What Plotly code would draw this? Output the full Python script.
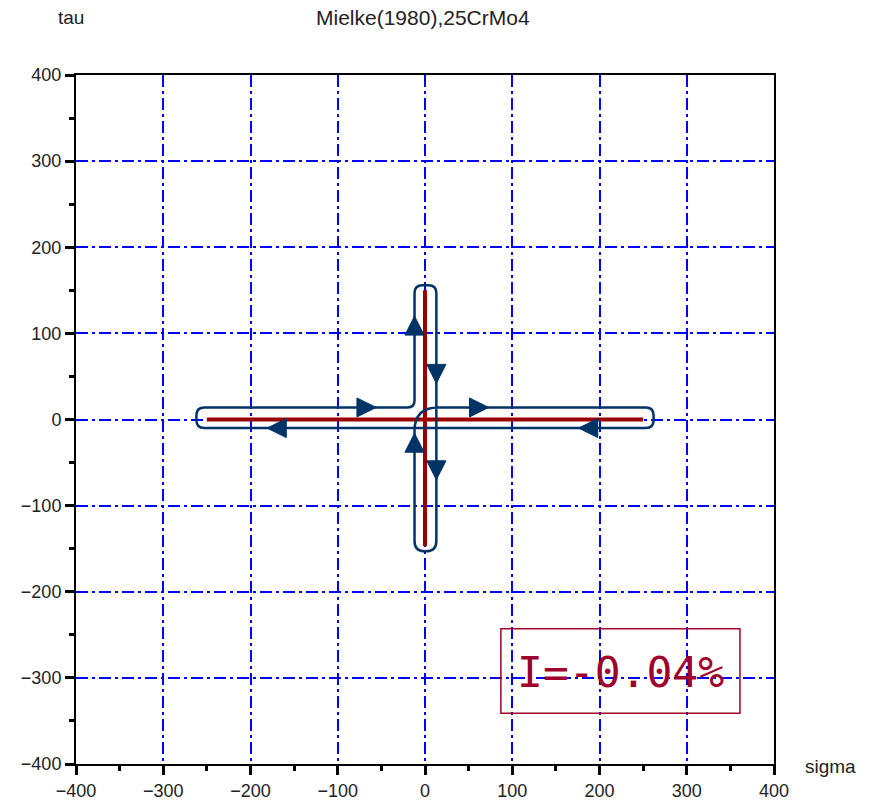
import plotly.graph_objects as go
import numpy as np

# ---------------- data ----------------
# red load path (sigma / tau in MPa)
red_h_sigma = [-250, 250]
red_h_tau = [0, 0]
red_v_sigma = [0, 0]
red_v_tau = [-147, 150]

# navy loop path: corner vertices and corner rounding (data units)
loop_sigma = [-262, -12, -12, 13, 13, -12, -12, 262, 262, -262]
loop_tau = [14, 14, 156, 156, -153, -153, 14, 14, -10, -10]
loop_round = [9, 8, 9, 9, 12, 12, 27, 9, 9, 9]

# direction arrows (tip position + direction)
arrow_sigma = [-56, -12, 13, 73, 176, -181, -12, 13]
arrow_tau = [14, 120, 42, 14, -10, -10, -16, -70]
arrow_dir = ["right", "up", "down", "right", "left", "left", "up", "down"]

tick_vals = [-400, -300, -200, -100, 0, 100, 200, 300, 400]
title_text = "Mielke(1980),25CrMo4"
index_text = "I=-0.04%"

NAVY = "#003366"
RED = "#990000"
BOXRED = "#a0002a"
LABEL_FONT = "Liberation Sans, Arial, sans-serif"

# ---------------- figure ----------------
fig = go.Figure()
fig.add_trace(go.Scatter(x=red_h_sigma, y=red_h_tau, mode="lines",
                         line=dict(color=RED, width=4), hoverinfo="skip", showlegend=False))
fig.add_trace(go.Scatter(x=red_v_sigma, y=red_v_tau, mode="lines",
                         line=dict(color=RED, width=4), hoverinfo="skip", showlegend=False))

# build rounded loop path
n = len(loop_sigma)
pts = np.column_stack([loop_sigma, loop_tau]).astype(float)


def corner(i):
    V = pts[i]
    P = pts[i - 1]
    N = pts[(i + 1) % n]
    r = loop_round[i]
    pin = V + r * (P - V) / np.linalg.norm(P - V)
    pout = V + r * (N - V) / np.linalg.norm(N - V)
    return pin, V, pout


segs = []
p0in, v0, p0out = corner(0)
segs.append(f"M {p0out[0]},{p0out[1]}")
for i in list(range(1, n)) + [0]:
    pin, V, pout = corner(i)
    segs.append(f"L {pin[0]},{pin[1]} Q {V[0]},{V[1]} {pout[0]},{pout[1]}")
segs.append("Z")
fig.add_shape(type="path", path=" ".join(segs), xref="x", yref="y",
              line=dict(color=NAVY, width=2.5), layer="above")

# arrows
ARROW_LEN = 22
ARROW_HALF = 11
dirs = {"right": (1, 0), "left": (-1, 0), "up": (0, 1), "down": (0, -1)}
for sx, ty, d in zip(arrow_sigma, arrow_tau, arrow_dir):
    dx, dy = dirs[d]
    bx, by = sx - ARROW_LEN * dx, ty - ARROW_LEN * dy
    px, py = -dy, dx
    p = (f"M {sx},{ty} L {bx + ARROW_HALF * px},{by + ARROW_HALF * py} "
         f"L {bx - ARROW_HALF * px},{by - ARROW_HALF * py} Z")
    fig.add_shape(type="path", path=p, xref="x", yref="y",
                  line=dict(color=NAVY, width=1), fillcolor=NAVY, layer="above")

# index box
fig.add_shape(type="rect", xref="x", yref="y", x0=87, x1=361, y0=-341, y1=-243,
              line=dict(color=BOXRED, width=1.5), layer="above")
fig.add_annotation(x=224, y=-293, xref="x", yref="y", text=index_text, showarrow=False,
                   xanchor="center", yanchor="middle",
                   font=dict(family="DejaVu Sans Mono", size=43, color=BOXRED))

# labels (positions in paper fractions of the 698x689 plot area)
fig.add_annotation(text="tau", xref="paper", yref="paper",
                   x=(71 - 76) / 698, y=1 + (75 - 18) / 689, showarrow=False,
                   xanchor="center", yanchor="middle",
                   font=dict(family=LABEL_FONT, size=19, color="#222"))
fig.add_annotation(text="sigma", xref="paper", yref="paper",
                   x=1 + (830 - 774) / 698, y=(764 - 766) / 689, showarrow=False,
                   xanchor="center", yanchor="middle",
                   font=dict(family=LABEL_FONT, size=19, color="#222"))
fig.add_annotation(text=title_text, xref="paper", yref="paper",
                   x=(423 - 76) / 698, y=1 + (75 - 18) / 689, showarrow=False,
                   xanchor="center", yanchor="middle",
                   font=dict(family=LABEL_FONT, size=21, color="#222"))

axis_common = dict(
    range=[-400, 400], tickvals=tick_vals, ticks="outside", ticklen=9, tickwidth=3,
    tickcolor="black", showline=True, linecolor="black", linewidth=2, mirror=True,
    showgrid=True, gridcolor="#0000ff", gridwidth=1.5, griddash="12px,4px,3px,4px",
    zeroline=False, tickfont=dict(family=LABEL_FONT, size=18, color="#222"),
    minor=dict(dtick=50, tick0=0, ticks="outside", ticklen=5, tickwidth=3,
               tickcolor="black", showgrid=False),
    fixedrange=True, automargin=False,
)
fig.update_xaxes(**axis_common)
fig.update_yaxes(**axis_common)

fig.update_layout(
    width=873, height=802,
    margin=dict(l=76, r=99, t=75, b=38, autoexpand=False),
    plot_bgcolor="white", paper_bgcolor="white",
    showlegend=False,
)

fig.write_html("out.html")
